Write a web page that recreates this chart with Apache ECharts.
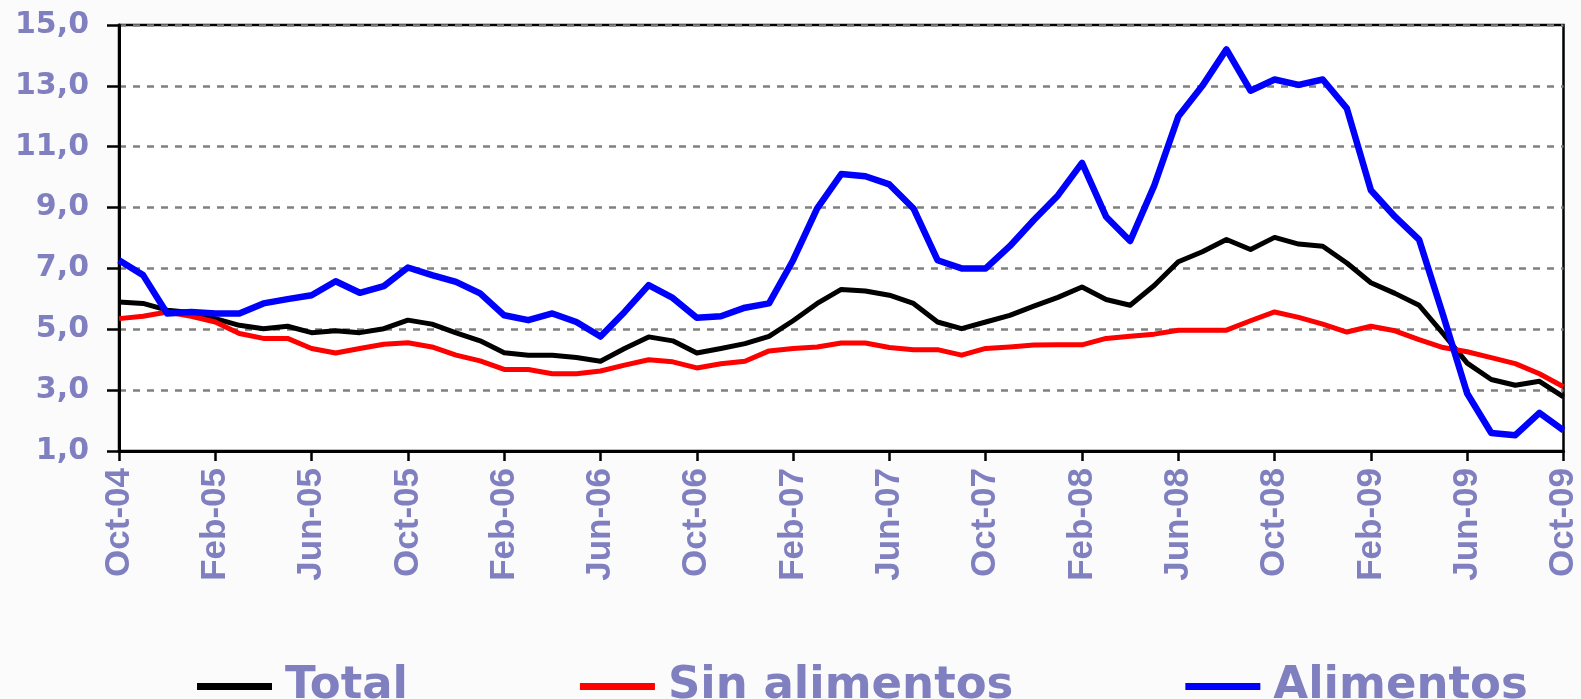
<!DOCTYPE html>
<html>
<head>
<meta charset="utf-8">
<script src="https://cdn.jsdelivr.net/npm/echarts@6/dist/echarts.min.js"></script>
<style>
html,body{margin:0;padding:0;background:#fbfbfb;}
#chart{width:1581px;height:699px;}
</style>
</head>
<body>
<div id="chart"></div>
<script>
const categories = [
  'Oct-04','Nov-04','Dec-04','Jan-05','Feb-05','Mar-05','Apr-05','May-05','Jun-05','Jul-05','Aug-05','Sep-05',
  'Oct-05','Nov-05','Dec-05','Jan-06','Feb-06','Mar-06','Apr-06','May-06','Jun-06','Jul-06','Aug-06','Sep-06',
  'Oct-06','Nov-06','Dec-06','Jan-07','Feb-07','Mar-07','Apr-07','May-07','Jun-07','Jul-07','Aug-07','Sep-07',
  'Oct-07','Nov-07','Dec-07','Jan-08','Feb-08','Mar-08','Apr-08','May-08','Jun-08','Jul-08','Aug-08','Sep-08',
  'Oct-08','Nov-08','Dec-08','Jan-09','Feb-09','Mar-09','Apr-09','May-09','Jun-09','Jul-09','Aug-09','Sep-09',
  'Oct-09'
];
const seriesNames = ['Total', 'Sin alimentos', 'Alimentos'];
const total = [
  5.90, 5.85, 5.63, 5.55, 5.35, 5.13, 5.02, 5.10, 4.89, 4.95, 4.89, 5.02,
  5.30, 5.17, 4.88, 4.62, 4.23, 4.15, 4.15, 4.07, 3.95, 4.37, 4.75, 4.62,
  4.22, 4.37, 4.53, 4.77, 5.28, 5.85, 6.31, 6.26, 6.12, 5.85, 5.24, 5.02,
  5.24, 5.46, 5.76, 6.05, 6.39, 5.98, 5.79, 6.44, 7.22, 7.55, 7.95, 7.62,
  8.02, 7.80, 7.73, 7.18, 6.53, 6.18, 5.79, 4.86, 3.89, 3.35, 3.16, 3.29,
  2.78
];
const sinAlimentos = [
  5.35, 5.43, 5.57, 5.43, 5.24, 4.86, 4.70, 4.70, 4.37, 4.22, 4.37, 4.51,
  4.56, 4.42, 4.15, 3.96, 3.68, 3.68, 3.54, 3.54, 3.63, 3.82, 4.00, 3.93,
  3.73, 3.87, 3.95, 4.29, 4.37, 4.42, 4.55, 4.55, 4.40, 4.33, 4.33, 4.15,
  4.37, 4.42, 4.48, 4.49, 4.49, 4.70, 4.77, 4.84, 4.97, 4.97, 4.97, 5.28,
  5.57, 5.39, 5.17, 4.91, 5.10, 4.95, 4.66, 4.40, 4.26, 4.07, 3.87, 3.54,
  3.11
];
const alimentos = [
  7.27, 6.78, 5.52, 5.57, 5.52, 5.52, 5.85, 5.99, 6.12, 6.58, 6.20, 6.42,
  7.03, 6.78, 6.56, 6.18, 5.46, 5.30, 5.52, 5.24, 4.76, 5.57, 6.45, 6.03,
  5.38, 5.43, 5.71, 5.85, 7.27, 8.97, 10.10, 10.03, 9.76, 8.97, 7.27, 7.00,
  7.00, 7.73, 8.59, 9.40, 10.47, 8.70, 7.90, 9.72, 11.99, 13.00, 14.20, 12.84,
  13.21, 13.03, 13.21, 12.26, 9.57, 8.70, 7.95, 5.46, 2.89, 1.59, 1.52, 2.25,
  1.68
];
const yTicks = { min: 1, max: 15, step: 2 };

const textColor = '#8080C0';
const chart = echarts.init(document.getElementById('chart'), null, { renderer: 'canvas' });
chart.setOption({
  backgroundColor: '#fbfbfb',
  animation: false,
  grid: {
    left: 119, right: 17, top: 25, bottom: 248,
    show: true, backgroundColor: '#ffffff', borderColor: '#000000', borderWidth: 2.5
  },
  legend: {
    data: seriesNames,
    left: 192, top: 659,
    itemWidth: 75, itemHeight: 7, itemGap: 172,
    icon: 'rect',
    textStyle: { color: textColor, fontFamily: 'DejaVu Sans', fontWeight: 'bold', fontSize: 45, padding: [0, 0, 0, 8] }
  },
  xAxis: {
    type: 'category',
    data: categories,
    boundaryGap: false,
    axisLine: { lineStyle: { color: '#000', width: 3 } },
    axisTick: { show: true, interval: 3, length: 10, lineStyle: { color: '#000', width: 2.5 } },
    axisLabel: {
      interval: 3, rotate: 90, margin: 17,
      color: textColor, fontFamily: "'Liberation Sans', Arial, sans-serif", fontWeight: 'bold', fontSize: 35
    },
    splitLine: { show: false }
  },
  yAxis: {
    type: 'value',
    min: yTicks.min, max: yTicks.max, interval: yTicks.step,
    axisLine: { show: true, lineStyle: { color: '#000', width: 3 } },
    axisTick: { show: true, length: 12, lineStyle: { color: '#000', width: 2.5 } },
    axisLabel: {
      margin: 30,
      color: textColor, fontFamily: 'DejaVu Sans', fontWeight: 'bold', fontSize: 30,
      formatter: v => v.toFixed(1).replace('.', ',')
    },
    splitLine: { show: true, lineStyle: { color: '#808080', width: 2.5, type: [7, 7] } }
  },
  series: [
    { name: seriesNames[0], type: 'line', data: total, showSymbol: false, symbol: 'none',
      itemStyle: { color: '#000000' }, lineStyle: { color: '#000000', width: 5, join: 'round' }, z: 2 },
    { name: seriesNames[1], type: 'line', data: sinAlimentos, showSymbol: false, symbol: 'none',
      itemStyle: { color: '#ff0000' }, lineStyle: { color: '#ff0000', width: 5, join: 'round' }, z: 3 },
    { name: seriesNames[2], type: 'line', data: alimentos, showSymbol: false, symbol: 'none',
      itemStyle: { color: '#0000ff' }, lineStyle: { color: '#0000ff', width: 6.5, join: 'round' }, z: 4 }
  ]
});
</script>
</body>
</html>
